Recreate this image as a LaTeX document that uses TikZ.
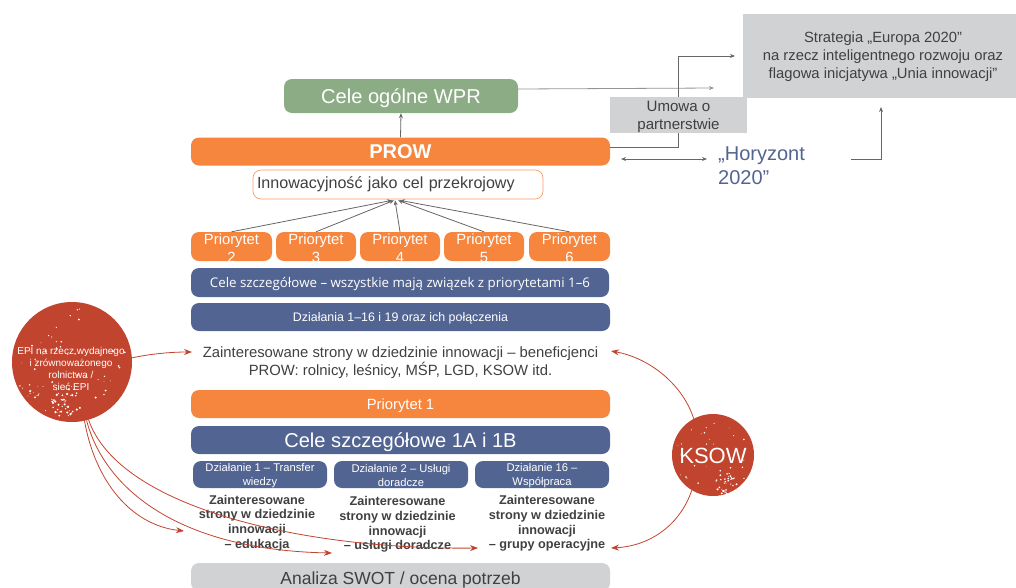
\documentclass[tikz,border=0pt]{standalone}
\usepackage{fontspec}
\setmainfont{Liberation Sans}
\newfontfamily\opensans{Open Sans}
\usetikzlibrary{arrows.meta,calc}
\definecolor{orangeb}{HTML}{F6853D}
\definecolor{blueb}{HTML}{526491}
\definecolor{greenb}{HTML}{8CAC85}
\definecolor{greyb}{HTML}{D1D2D4}
\definecolor{redb}{HTML}{C1442E}
\definecolor{ink}{HTML}{404040}
\definecolor{linegrey}{HTML}{666666}
\newcommand{\fs}[1]{\fontsize{#1}{#1}\selectfont}
\newcommand{\dn}[2]{\raisebox{-#1pt}[\height][\depth]{#2}}
\newcommand{\speckle}[5]{% cx cy radius count dot size
  \foreach \k in {1,...,#4}{
    \pgfmathsetmacro\aa{rnd*360}
    \pgfmathsetmacro\rr{#3*sqrt(rnd)}
    \pgfmathsetmacro\ss{#5*(0.25+0.75*rnd)}
    \fill[white] ($(#1,#2)+(\aa:\rr pt)$) circle[radius=\ss pt];
  }}
\tikzset{
  bar/.style={rounded corners=8pt,fill=#1,draw=none,text=white,inner sep=0pt,align=center},
  grey box/.style={fill=greyb,draw=none,text=ink,inner sep=0pt,align=center},
  disc/.style={circle,fill=redb,draw=none,inner sep=0pt,text=white,align=center},
  pri/.style={bar=orangeb,minimum height=29pt},
  pritext/.style={text=white,align=center,inner sep=0pt,font=\fontsize{14.8}{18}\selectfont},
  dzi/.style={bar=blueb,minimum width=134pt,minimum height=27pt},
  dzitext/.style={text=white,align=center,inner sep=0pt,font=\fontsize{11.2}{14}\selectfont},
  actors/.style={text=ink,align=center,font=\fontsize{12.7}{14.8}\selectfont\bfseries},
  link/.style={draw=linegrey,line width=0.8pt,-{Stealth[length=5pt,width=4pt]}},
  redlink/.style={draw=redb,line width=0.8pt,-{Stealth[length=8pt,width=6pt]}}
}
\begin{document}
\begin{tikzpicture}[x=1pt,y=-1pt]
\useasboundingbox (0,0) rectangle (1016,587);
\pgfmathsetseed{4217}
% top right
\node[grey box,minimum width=273pt,minimum height=84pt] (strategia) at (879.5,56) {};
\node[text=ink,align=center,inner sep=0pt,font=\fontsize{14.8}{18}\selectfont] (strategiat) at (883,57) {Strategia „Europa 2020”\\na rzecz inteligentnego rozwoju oraz\\flagowa inicjatywa „Unia innowacji”};
\coordinate (umowain) at (735,56);
\coordinate (celeend) at (714,88);
\coordinate (strin) at (881,107);
\coordinate (hl) at (621,159);
\coordinate (hr) at (707,159);
\coordinate (hout) at (851,159);
% bars
\node[bar=greenb,minimum width=234pt,minimum height=34pt,font=\fs{20.1}] (cele) at (401,96) {\dn{2}{Cele ogólne WPR}};
\node[bar=orangeb,minimum width=419pt,minimum height=28pt,font=\fs{20}\bfseries] (prow) at (400.5,151.5) {\dn{0.5}{PROW}};
\draw[link,draw=linegrey!70] (cele.east |- 0,89) -- (celeend);
\draw[link] (prow.east |- 0,147) -| (678,56) -- (umowain);
\node[grey box,minimum width=137pt,minimum height=36pt] (umowa) at (678.5,115) {};
\node[text=ink,align=center,inner sep=0pt,font=\fontsize{15.1}{18}\selectfont] (umowat) at (678.5,116.5) {Umowa o\\partnerstwie};
\draw[link] (prow.north) -- (cele.south);
\node[text=blueb,align=left,anchor=north west,inner sep=0pt,font=\fontsize{20}{23.5}\selectfont] (hor) at (718,147) {„Horyzont\\2020”};
\draw[link,{Stealth[length=5pt,width=4pt]}-{Stealth[length=5pt,width=4pt]}] (hl) -- (hr);
\draw[link] (hout) -| (strin);
\node[rounded corners=8pt,draw=orangeb!80,fill=white,line width=0.7pt,minimum width=290pt,minimum height=29pt,inner sep=0pt,text width=282pt,align=left,text=ink,font=\fs{16.1}] (inno) at (398,184.5) {Innowacyjność jako cel przekrojowy};
\node[pri,minimum width=81pt] (p2) at (231.5,246.5) {};
\node[pri,minimum width=80pt] (p3) at (316,246.5) {};
\node[pri,minimum width=80pt] (p4) at (400,246.5) {};
\node[pri,minimum width=80pt] (p5) at (484,246.5) {};
\node[pri,minimum width=81pt] (p6) at (569.5,246.5) {};
\node[pritext] (p2t) at (231.5,248.5) {Priorytet\\2};
\node[pritext] (p3t) at (316,248.5) {Priorytet\\3};
\node[pritext] (p4t) at (400,248.5) {Priorytet\\4};
\node[pritext] (p5t) at (484,248.5) {Priorytet\\5};
\node[pritext] (p6t) at (569.5,248.5) {Priorytet\\6};
\draw[link] (p2.north) -- ($(inno.south)+(-6,1)$);
\draw[link] (p3.north) -- ($(inno.south)+(-4,1)$);
\draw[link] (p4.north) -- ($(inno.south)+(-3,1)$);
\draw[link] (p5.north) -- ($(inno.south)+(0,1)$);
\draw[link] (p6.north) -- ($(inno.south)+(2,1)$);
\node[bar=blueb,minimum width=418pt,minimum height=29pt,font=\opensans\fs{13.3}] (cs) at (400,282.5) {\dn{1.5}{Cele szczegółowe – wszystkie mają związek z priorytetami 1–6}};
\node[bar=blueb,minimum width=419pt,minimum height=28pt,font=\fs{12.4}] (dz) at (400.5,317) {\dn{1.5}{Działania 1–16 i 19 oraz ich połączenia}};
\node[text=ink,align=center,inner sep=0pt,font=\fontsize{14.85}{18}\selectfont] (benef) at (400.5,363) {Zainteresowane strony w dziedzinie innowacji – beneficjenci\\PROW: rolnicy, leśnicy, MŚP, LGD, KSOW itd.};
\node[bar=orangeb,minimum width=419pt,minimum height=28pt,font=\fs{14.8}] (p1) at (400.5,404) {\dn{2}{Priorytet 1}};
\node[bar=blueb,minimum width=419pt,minimum height=28pt,font=\fs{20.1}] (c1) at (400.5,440) {\dn{2}{Cele szczegółowe 1A i 1B}};
\node[dzi] (d1) at (260,474.5) {};
\node[dzi] (d2) at (401,474.5) {};
\node[dzi] (d3) at (542,474.5) {};
\node[dzitext] (d1t) at (260,475.5) {Działanie 1 – Transfer\\wiedzy};
\node[dzitext] (d2t) at (401,475.5) {Działanie 2 – Usługi\\doradcze};
\node[dzitext] (d3t) at (542,475.5) {Działanie 16 –\\Współpraca};
\node[actors] (a1) at (257,523) {Zainteresowane\\strony w dziedzinie\\innowacji\\– edukacja};
\node[actors] (a2) at (397.5,524.5) {Zainteresowane\\strony w dziedzinie\\innowacji\\– usługi doradcze};
\node[actors] (a3) at (547,523.5) {Zainteresowane\\strony w dziedzinie\\innowacji\\– grupy operacyjne};
\node[bar=greyb,text=ink,minimum width=419pt,minimum height=28pt,font=\fs{17.5}] (swot) at (400.5,577) {\dn{2.5}{Analiza SWOT / ocena potrzeb}};
% discs
\node[disc,minimum size=120pt] (epi) at (72,362) {};
\speckle{72}{362}{58}{45}{1.1}
\speckle{68}{402}{17}{45}{1.3}
\speckle{30}{393}{9}{10}{1.2}
\node[text=white,align=center,inner sep=0pt,font=\fontsize{10}{11.8}\selectfont] (epit) at (71,369) {EPI na rzecz wydajnego\\i zrównoważonego\\rolnictwa /\\sieć EPI};
\node[disc,minimum size=82pt] (ksow) at (713,455) {};
\speckle{713}{455}{39}{30}{0.9}
\speckle{726}{484}{11}{35}{1.1}
\node[text=white,inner sep=0pt,font=\fs{22}] (ksowt) at (713,456) {KSOW};
% red connectors
\coordinate (r0) at (192,352);
\coordinate (r1) at (184,531);
\coordinate (r2) at (332,553);
\coordinate (r3) at (478,548);
\coordinate (r4) at (611,351);
\coordinate (r5) at (611,548);
\draw[redlink] (epi.4) .. controls (150,354) and (170,352) .. (r0);
\draw[redlink] (epi.-78) .. controls (95,480) and (130,525) .. (r1);
\draw[redlink] (epi.-76) .. controls (105,490) and (180,550) .. (r2);
\draw[redlink] (epi.-74) .. controls (120,510) and (310,550) .. (r3);
\draw[redlink] (ksow.118) .. controls (683,385) and (650,358) .. (r4);
\draw[redlink] (ksow.239) .. controls (680,525) and (650,546) .. (r5);
\end{tikzpicture}
\end{document}
